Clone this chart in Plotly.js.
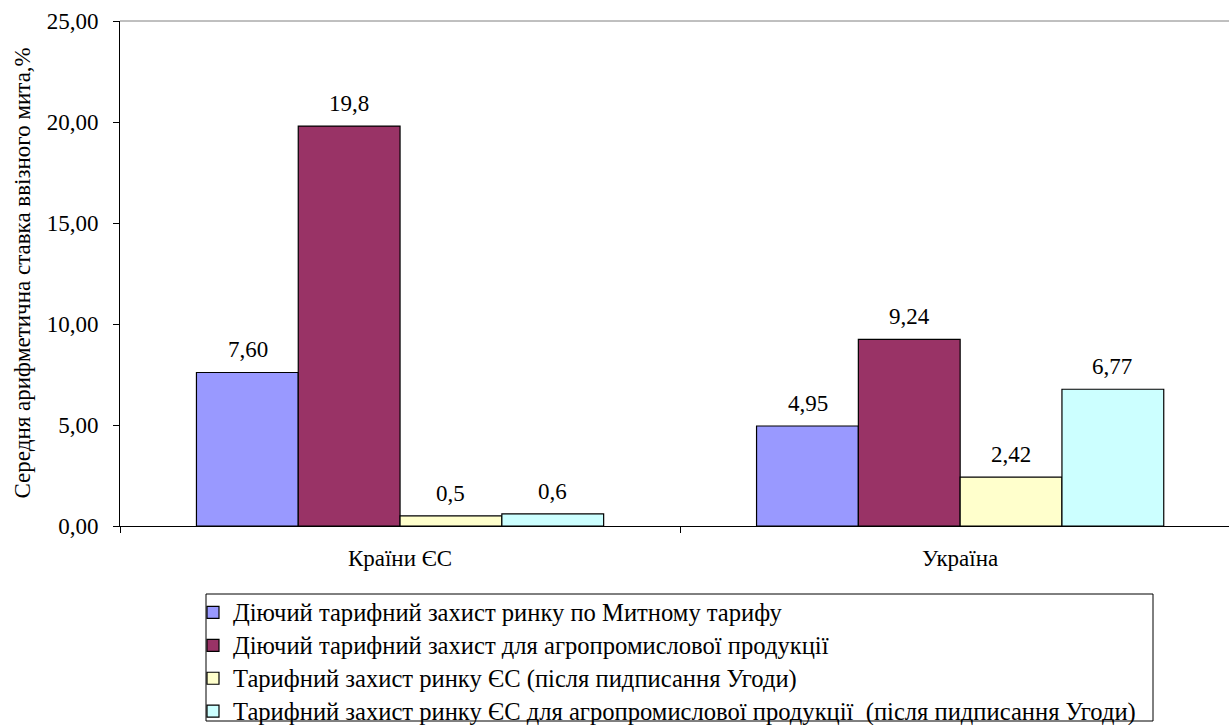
<!DOCTYPE html>
<html>
<head>
<meta charset="utf-8">
<script src="https://cdn.plot.ly/plotly-3.0.1.min.js"></script>
<style>html,body{margin:0;padding:0;background:#fff;}#chart{width:1229px;height:725px;}</style>
</head>
<body>
<div id="chart"></div>
<script>
const categories = ["Країни ЄС", "Україна"];
const seriesNames = [
  "Діючий тарифний захист ринку по Митному тарифу",
  "Діючий тарифний захист для агропромислової продукції",
  "Тарифний захист ринку ЄС (після пидписання Угоди)",
  "Тарифний захист ринку ЄС для агропромислової продукції  (після пидписання Угоди)"
];
const values1 = [7.60, 4.95];
const values2 = [19.8, 9.24];
const values3 = [0.5, 2.42];
const values4 = [0.6, 6.77];
const labels1 = ["7,60", "4,95"];
const labels2 = ["19,8", "9,24"];
const labels3 = ["0,5", "2,42"];
const labels4 = ["0,6", "6,77"];
const yTitle = "Середня арифметична ставка ввізного мита,%";
const colors = ["#9999FF", "#993366", "#FFFFCC", "#CCFFFF"];

const serif = "Liberation Serif";
const fs = 23;
const allValues = [values1, values2, values3, values4];
const allLabels = [labels1, labels2, labels3, labels4];

const traces = allValues.map((v, i) => ({
  type: "bar",
  name: "<span style='font-size:24.6px'>" + seriesNames[i] + "</span>",
  x: categories,
  y: v,
  marker: {color: colors[i], line: {color: "#000", width: 1.2}},
  hoverinfo: "skip"
}));

const barStep = 101.5;
const annotations = [];
allValues.forEach((v, i) => {
  v.forEach((val, j) => {
    annotations.push({
      x: categories[j], y: val, xref: "x", yref: "y",
      text: allLabels[i][j], showarrow: false,
      yanchor: "bottom", yshift: 8, xshift: (i - 1.5) * barStep,
      font: {family: serif, size: fs, color: "#000"}
    });
  });
});
annotations.push({
  x: 0, y: 0.5, xref: "paper", yref: "paper", xanchor: "center", yanchor: "middle",
  xshift: -98, textangle: -90, showarrow: false, text: yTitle,
  font: {family: serif, size: fs, color: "#000"}
});

const layout = {
  width: 1229, height: 725,
  margin: {l: 120, r: 0, t: 21, b: 199, autoexpand: false},
  paper_bgcolor: "#fff", plot_bgcolor: "#fff",
  barmode: "group",
  bargap: 0.273, bargroupgap: 0,
  font: {family: serif, size: fs, color: "#000"},
  xaxis: {
    range: [-0.5, 1.48],
    showline: true, linecolor: "#000", linewidth: 1,
    ticks: "outside", tickson: "boundaries", ticklen: 6, tickcolor: "#000",
    tickfont: {family: serif, size: fs}, ticklabelstandoff: 11,
    showgrid: false, zeroline: false
  },
  yaxis: {
    range: [0, 25], dtick: 5, tickformat: ".2f",
    showline: true, linecolor: "#000", linewidth: 1,
    ticks: "outside", ticklen: 6, tickcolor: "#000",
    tickfont: {family: serif, size: fs}, ticklabelstandoff: 10,
    showgrid: false, zeroline: false
  },
  separators: ",.",
  showlegend: true,
  legend: {
    x: 193 / 1229, xref: "container", xanchor: "left",
    y: 1 - 591 / 725, yref: "container", yanchor: "top",
    orientation: "v", traceorder: "normal",
    borderwidth: 0, bgcolor: "rgba(0,0,0,0)",
    font: {family: serif, size: 23}, itemwidth: 30
  },
  annotations: annotations,
  shapes: [
    {type: "line", xref: "paper", yref: "paper", x0: 0, x1: 1, y0: 1, y1: 1, line: {color: "#808080", width: 1}},
    {type: "rect", xref: "paper", yref: "paper", x0: (206 - 120) / 1109, x1: (1153 - 120) / 1109, y0: -(721 - 526) / 505, y1: -(594 - 526) / 505, line: {color: "#000", width: 1}, fillcolor: "rgba(0,0,0,0)"}
  ]
};

Plotly.newPlot("chart", traces, layout, {displayModeBar: false, staticPlot: true});
</script>
</body>
</html>
